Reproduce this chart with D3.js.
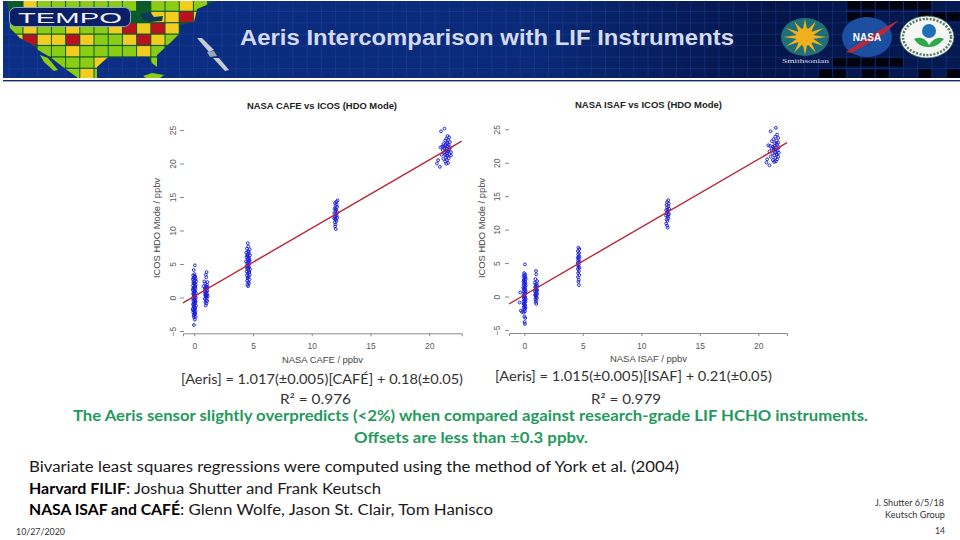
<!DOCTYPE html>
<html>
<head>
<meta charset="utf-8">
<title>Aeris Intercomparison with LIF Instruments</title>
<script src="https://cdn.jsdelivr.net/npm/d3@7/dist/d3.min.js"></script>
<style>
  html, body { margin: 0; padding: 0; background: #fff; }
  svg { display: block; }
  .axis text { font-family: "Liberation Sans", sans-serif; font-size: 8.5px; fill: #5a5a5a; }
  .axis line, .axis path { stroke: #8a8a8a; stroke-width: 1; }
</style>
</head>
<body>
<svg id="chart" width="960" height="540"></svg>
<script>
// ---- values, [x, y] in ppbv ----
const cafeBlank = [[0.05,4.8],[-0.05,4.1],[0.02,3.5],[-0.1,3.3],[0.08,3.1],[-0.04,3],[0.12,2.8],[-0.12,2.7],[0.03,2.6],[0.16,2.4],[-0.08,2.3],[0.06,2.2],[-0.02,2],[0.12,1.9],[-0.11,1.8],[0.04,1.6],[-0.06,1.5],[0.1,1.4],[0,1.2],[-0.12,1.1],[0.07,1],[-0.03,0.8],[0.13,0.7],[-0.09,0.6],[0.02,0.4],[0.09,0.3],[-0.05,0.2],[0.14,0],[-0.13,-0.1],[0.01,-0.2],[0.07,-0.4],[-0.08,-0.5],[0.11,-0.6],[-0.02,-0.8],[0.05,-0.9],[-0.11,-1],[0.15,-1.2],[0,-1.3],[-0.06,-1.4],[0.09,-1.6],[-0.13,-1.7],[0.04,-1.8],[-0.03,-2],[0.1,-2.1],[-0.09,-2.2],[0.02,-2.4],[0.07,-2.5],[-0.05,-2.7],[0.12,-2.9],[-0.02,-3],[0.05,-3.3],[-0.03,-4.1],[0.03,3.2],[-0.07,2.9],[0.01,2.5],[-0.04,2.1],[0.08,1.7],[-0.1,1.3],[0.03,0.9],[-0.07,0.5],[0.05,0.1],[-0.03,-0.3],[0.09,-0.7],[-0.06,-1.1],[0.02,-1.5],[-0.1,-1.9],[0.06,-2.3],[0,-2.6]];
const cafeLow = [[1.05,3.8],[0.98,3.4],[1.02,3],[0.85,2.4],[1.12,2.3],[0.94,2.1],[1.08,1.9],[0.78,1.7],[1,1.6],[1.15,1.5],[0.9,1.4],[1.05,1.3],[0.97,1.1],[1.12,1],[0.88,0.9],[1.02,0.8],[0.95,0.6],[1.09,0.5],[0.92,0.4],[1.04,0.3],[1.14,0.2],[0.96,0.1],[1.06,-0.1],[0.9,-0.2],[1,-0.4],[1.1,-0.5],[0.95,-0.7],[1.03,-0.9],[0.97,-1.2],[1.08,1.6],[0.93,1.2],[1.01,0.2]];
const cafeMid = [[4.55,8.1],[4.6,7.6],[4.48,7.3],[4.72,7.2],[4.58,6.9],[4.42,6.7],[4.65,6.6],[4.52,6.4],[4.74,6.3],[4.6,6.1],[4.45,6],[4.68,5.8],[4.55,5.7],[4.72,5.5],[4.4,5.4],[4.62,5.3],[4.5,5.1],[4.7,5],[4.58,4.8],[4.44,4.7],[4.66,4.5],[4.53,4.4],[4.75,4.2],[4.6,4.1],[4.46,3.9],[4.68,3.8],[4.55,3.6],[4.72,3.4],[4.48,3.3],[4.62,3.1],[4.54,2.9],[4.7,2.7],[4.5,2.5],[4.6,2.3],[4.66,2.1],[4.52,1.9],[4.58,1.7],[4.62,6.8],[4.5,6.2],[4.66,5.6],[4.56,5.2],[4.6,4.6],[4.5,4.3],[4.64,3.7],[4.56,3]];
const cafeHigh = [[12.2,14.5],[12.1,14.3],[11.98,14.1],[12.12,13.9],[12.02,13.7],[12.15,13.5],[11.95,13.3],[12.08,13.1],[12,12.9],[12.18,12.7],[11.92,12.6],[12.06,12.4],[12.12,12.2],[11.98,12],[12.16,11.9],[11.9,11.8],[12.04,11.6],[12.1,11.4],[11.96,11.2],[12.02,10.9],[11.98,10.6],[12.04,10.2],[12.02,13.2],[12.08,12.5],[11.98,11.7]];
const cafeTop = [[21,24.8],[21.3,25.2],[21.55,24.1],[21.7,23.9],[21.45,23.7],[21.6,23.5],[21.35,23.4],[21.75,23.2],[21.5,23.1],[21.2,22.9],[21.65,22.8],[21.4,22.7],[21.55,22.6],[21.1,22.5],[20.95,22.4],[21.8,22.4],[21.3,22.3],[21.5,22.2],[21.7,22.1],[21.15,22],[21.4,21.9],[21.6,21.8],[21.85,21.7],[21.25,21.6],[21.5,21.5],[21.7,21.4],[21.35,21.3],[21.05,21.3],[21.85,21.2],[21.55,21.1],[21.4,20.9],[21.65,20.8],[21.2,20.7],[21.5,20.5],[20.75,20.5],[21.35,20.3],[21.6,20.1],[21.45,19.95],[20.65,20],[20.9,19.5],[21.55,23],[21.25,22.6],[21.45,22.3],[21.6,22],[21.3,21.7],[21.5,21.2]];

const isafBlank = [[0.05,4.8],[-0.02,3.5],[0.08,3.3],[-0.06,3.1],[0.1,2.9],[0,2.8],[0.12,2.6],[-0.05,2.5],[0.06,2.3],[-0.08,2.2],[0.1,2],[0,1.9],[-0.06,1.7],[0.12,1.6],[0.04,1.4],[-0.08,1.3],[0.08,1.1],[-0.02,1],[0.12,0.8],[-0.06,0.7],[0.04,0.5],[0.1,0.4],[-0.08,0.2],[0,0.1],[0.08,-0.1],[-0.05,-0.2],[0.12,-0.4],[0.02,-0.5],[-0.07,-0.7],[0.1,-0.8],[0,-1],[-0.05,-1.1],[0.08,-1.3],[0.03,-1.4],[-0.06,-1.6],[0.1,-1.7],[0,-1.9],[-0.3,-2.1],[-0.2,-2.3],[-0.05,-2.4],[0.06,-2.2],[0,-3],[0.08,-3.2],[0.02,-3.8],[0.05,-4.1],[-0.4,-0.9],[-0.35,0.6],[0.03,3.1],[-0.03,2.4],[0.05,1.8],[-0.03,1.2],[0.06,0.6],[-0.02,0],[0.05,-0.6],[-0.02,-1.2],[0.04,-1.8]];
const isafLow = [[1,3.8],[1.02,3.3],[0.95,2.6],[1.1,2.3],[0.9,2.1],[1.05,1.9],[0.96,1.8],[1.12,1.6],[0.92,1.4],[1.03,1.3],[0.97,1.1],[1.1,1],[0.9,0.8],[1.05,0.7],[0.96,0.5],[1.1,0.4],[0.92,0.2],[1.02,0.1],[0.98,-0.1],[1.08,-0.2],[0.94,-0.4],[1.04,-0.6],[0.98,-0.8],[1.02,-1.1],[1,1.5],[1.04,0.9],[0.98,0.3]];
const isafMid = [[4.62,7.3],[4.7,7.1],[4.58,6.8],[4.68,6.5],[4.6,6.3],[4.72,6],[4.56,5.8],[4.66,5.6],[4.6,5.4],[4.72,5.2],[4.56,5],[4.66,4.8],[4.6,4.6],[4.7,4.3],[4.58,4.1],[4.66,3.8],[4.6,3.5],[4.7,3.2],[4.58,2.9],[4.66,2.5],[4.62,2.2],[4.66,1.7],[4.64,5.9],[4.62,5.1],[4.64,4.4]];
const isafHigh = [[12.3,14.4],[12.2,14.1],[12.35,13.9],[12.15,13.7],[12.3,13.5],[12.2,13.3],[12.38,13.1],[12.12,12.9],[12.28,12.7],[12.18,12.5],[12.36,12.3],[12.1,12.1],[12.25,11.9],[12.32,11.7],[12.16,11.5],[12.24,11.3],[12.12,10.9],[12.2,10.6],[12.26,10.3],[12.24,13],[12.28,12.2]];
const isafTop = [[21.05,24.7],[21.5,25.2],[21.6,24.2],[21.45,23.9],[21.7,23.7],[21.3,23.5],[21.55,23.3],[21.15,23.2],[21.7,23],[21.4,22.9],[20.85,22.6],[21,22.5],[21.6,22.7],[21.25,22.4],[21.75,22.3],[21.5,22.2],[21.15,22.1],[21.35,21.9],[21.65,21.8],[20.95,21.7],[21.45,21.6],[21.75,21.5],[21.2,21.4],[21.55,21.3],[21.35,21.1],[21.7,20.9],[21.05,20.9],[21.45,20.7],[21.6,20.5],[21.25,20.4],[20.75,20.5],[21.5,20.2],[20.7,20],[21.35,20.1],[20.95,19.6],[21.55,22.9],[21.3,22.2],[21.5,21.9],[21.6,21.2],[21.4,22.5]];

const cafePoints = [cafeBlank, cafeLow, cafeMid, cafeHigh, cafeTop];
const isafPoints = [isafBlank, isafLow, isafMid, isafHigh, isafTop];
const slopes = [1.017, 1.015];
const intercepts = [0.18, 0.21];
const xTicks = [0, 5, 10, 15, 20];
const yTicks = [-5, 0, 5, 10, 15, 20, 25];

const panelTitles = ["NASA CAFE vs ICOS (HDO Mode)", "NASA ISAF vs ICOS (HDO Mode)"];
const xLabels = ["NASA CAFE / ppbv", "NASA ISAF / ppbv"];
const yLabel = "ICOS HDO Mode / ppbv";
const slideTitle = "Aeris Intercomparison with LIF Instruments";

// banner map: one string per row, G green, Y yellow, R red, . nothing
const mapRows = [
  ".YGGGGGGG.GGYG",
  "..........YYRY",
  "GYGGYGGYRYRY..",
  "YRYYRYGGYRYG..",
  "..GGYGGGGYG...",
  "...GGGY...G...",
  "....GYG......."
];
const mapColors = { G: "#8ccc14", Y: "#f2cc1e", R: "#b8121e" };
// black cells in the top right of the banner, [column, row] on the banner grid
const darkCells = [[59,0],[60,0],[61,0],[62,0],[63,0],[64,0],[59,1],[60,1],[64,1],[65,1],[66,1],[58,5],[59,5],[60,5],[61,5],[62,5],[57,6],[58,6],[60,6],[61,6],[64,6],[66,6]];

const svg = d3.select("#chart");
const defs = svg.append("defs");

// ---- banner ----
const bannerFill = defs.append("linearGradient").attr("id", "bannerFill");
bannerFill.append("stop").attr("offset", "0").attr("stop-color", "#0c2f86");
bannerFill.append("stop").attr("offset", "0.55").attr("stop-color", "#0a2a78");
bannerFill.append("stop").attr("offset", "0.8").attr("stop-color", "#04154a");
bannerFill.append("stop").attr("offset", "1").attr("stop-color", "#051a52");

const banner = svg.append("g");
banner.append("rect").attr("x", 3).attr("y", 1).attr("width", 957).attr("height", 77).attr("fill", "url(#bannerFill)");

darkCells.forEach(c => {
  banner.append("rect").attr("x", 9.3 + c[0] * 14.2).attr("y", 1 + c[1] * 11.4)
    .attr("width", 13.2).attr("height", 8.5).attr("fill", "#01040f");
});

// faint grid over the sea
d3.range(9, 960, 14.2).forEach(x => banner.append("line").attr("x1", x).attr("x2", x).attr("y1", 1).attr("y2", 78).attr("stroke", "#2a4fa8").attr("stroke-opacity", 0.45).attr("stroke-width", 0.8));
d3.range(11.5, 78, 11.4).forEach(y => banner.append("line").attr("x1", 3).attr("x2", 960).attr("y1", y).attr("y2", y).attr("stroke", "#2a4fa8").attr("stroke-opacity", 0.4).attr("stroke-width", 0.8));

const landShape = "M7,1 L216,1 L197,9 L194,22 L180,25 L180,33 L170,43 L157,55 L157,67 L152,63 L148,57 L127,57 L107,58 L97,67 L97,78 L78,78 L63,67 L50,57 L38,50 L33,45 L20,38 L10,28 Z";
defs.append("clipPath").attr("id", "landClip").append("path").attr("d", landShape);
banner.append("path").attr("d", landShape).attr("fill", "#0b5a2a");

const mapCells = banner.append("g").attr("clip-path", "url(#landClip)");
mapRows.forEach((row, r) => {
  row.split("").forEach((c, i) => {
    if (c === ".") return;
    mapCells.append("rect")
      .attr("x", 9.3 + i * 14.2).attr("y", 0.5 + r * 11.4)
      .attr("width", 13.2).attr("height", 10.2)
      .attr("fill", mapColors[c]);
  });
});
// lakes, baja, cuba
banner.append("path").attr("d", "M140,14 L150,12 L154,17 L163,16 L162,21 L150,22 L143,20 Z").attr("fill", "#0a3a5a");
banner.append("path").attr("d", "M40,55 L48,58 L58,70 L54,71 L44,62 Z").attr("fill", "#8ccc14");
banner.append("path").attr("d", "M143,76 L152,73 L164,75 L160,78 L146,78 Z").attr("fill", "#8ccc14");

// satellite
banner.append("path").attr("d", "M197,38 L202,38 L214,50 L209,52 Z").attr("fill", "#c4ccd4");
banner.append("path").attr("d", "M207,52 L214,51 L217,56 L210,57 Z").attr("fill", "#9aa6b2");
banner.append("path").attr("d", "M213,58 L219,58 L229,70 L225,71 Z").attr("fill", "#c4ccd4");

// TEMPO pill
banner.append("rect").attr("x", 9.5).attr("y", 7.5).attr("width", 121).attr("height", 19).attr("rx", 6)
  .attr("fill", "#0b1f66").attr("stroke", "#8fa3d8").attr("stroke-width", 1);
banner.append("text").attr("x", 18).attr("y", 22.5).text("TEMPO")
  .attr("font-family", "'Liberation Sans', sans-serif").attr("font-size", 15).attr("fill", "#eef2ff")
  .attr("textLength", 104).attr("lengthAdjust", "spacingAndGlyphs");

banner.append("text").attr("x", 240).attr("y", 45).text(slideTitle)
  .attr("font-family", "'Liberation Sans', sans-serif").attr("font-weight", "bold").attr("font-size", 22)
  .attr("fill", "#d4daf0").attr("textLength", 494).attr("lengthAdjust", "spacingAndGlyphs");

// logos
banner.append("ellipse").attr("cx", 805).attr("cy", 37).attr("rx", 24).attr("ry", 19).attr("fill", "#1f6f78");
d3.range(0, 360, 30).forEach(a => {
  banner.append("path").attr("d", "M-3,0 L0,-18 L3,0 Z").attr("fill", "#f2b01e")
    .attr("transform", `translate(805,37) scale(1.2,1) rotate(${a})`);
});
banner.append("circle").attr("cx", 805).attr("cy", 37).attr("r", 9).attr("fill", "#f2b01e");
banner.append("text").attr("x", 782).attr("y", 63).text("Smithsonian")
  .attr("font-family", "'Liberation Serif', serif").attr("font-size", 7).attr("fill", "#d8dce8")
  .attr("textLength", 47).attr("lengthAdjust", "spacingAndGlyphs");

banner.append("ellipse").attr("cx", 867).attr("cy", 37).attr("rx", 25).attr("ry", 20).attr("fill", "#1c4fa0");
banner.append("path").attr("d", "M846,52 L880,30 L899,20 L884,34 L852,53 Z").attr("fill", "#b8283a");
banner.append("text").attr("x", 867).attr("y", 41).attr("text-anchor", "middle").text("NASA")
  .attr("font-family", "'Liberation Sans', sans-serif").attr("font-weight", "bold").attr("font-size", 10).attr("fill", "#fff");

banner.append("ellipse").attr("cx", 927).attr("cy", 37).attr("rx", 27).attr("ry", 21).attr("fill", "#f4f6f4").attr("stroke", "#3c6a5a").attr("stroke-width", 0.8);
banner.append("ellipse").attr("cx", 927).attr("cy", 37).attr("rx", 24).attr("ry", 18).attr("fill", "none").attr("stroke", "#5a7a6a").attr("stroke-width", 2.5).attr("stroke-dasharray", "2 1.5");
banner.append("circle").attr("cx", 929).attr("cy", 31).attr("r", 7).attr("fill", "#1e6fb8");
banner.append("path").attr("d", "M914,39 Q924,35 929,45 Q936,35 944,39 Q936,48 929,47 Q920,48 914,39 Z").attr("fill", "#2fa84a");

// rule under the banner
svg.append("rect").attr("x", 3).attr("y", 80).attr("width", 957).attr("height", 1.4).attr("fill", "#14286e");

// ---- scatter panels ----
function drawPanel(cfg) {
  const x = d3.scaleLinear().domain(cfg.xDomain).range(cfg.xRange);
  const y = d3.scaleLinear().domain(cfg.yDomain).range(cfg.yRange);
  const g = svg.append("g");

  const ax = g.append("g").attr("class", "axis")
    .attr("transform", `translate(0,${cfg.yRange[0]})`)
    .call(d3.axisBottom(x).tickValues(xTicks).tickSize(3).tickPadding(7).tickFormat(d3.format("d")));
  ax.select(".domain").attr("stroke-width", 1.2);

  const ay = g.append("g").attr("class", "axis")
    .attr("transform", `translate(${cfg.yAxisX},0)`)
    .call(d3.axisLeft(y).tickValues(yTicks).tickSize(4).tickPadding(0).tickFormat(d3.format("d")));
  ay.select(".domain").remove();
  ay.selectAll(".tick text")
    .attr("x", 0).attr("dy", 0).attr("y", 0)
    .attr("text-anchor", "middle")
    .attr("transform", `translate(${cfg.yTickX - cfg.yAxisX},0) rotate(-90)`);

  const dots = cfg.points.flat();
  g.append("g").selectAll("circle").data(dots).enter().append("circle")
    .attr("cx", d => x(d[0])).attr("cy", d => y(d[1])).attr("r", 1.4)
    .attr("fill", "none").attr("stroke", "#1a1ed8").attr("stroke-width", 0.95);

  const fit = v => cfg.slope * v + cfg.intercept;
  g.append("line")
    .attr("x1", x(cfg.xDomain[0])).attr("y1", y(fit(cfg.xDomain[0])))
    .attr("x2", x(cfg.xDomain[1])).attr("y2", y(fit(cfg.xDomain[1])))
    .attr("stroke", "#bc2432").attr("stroke-width", 1.4);

  const font = "'Liberation Sans', sans-serif";
  g.append("text").attr("x", cfg.titleX[0]).attr("y", cfg.titleY).text(cfg.title)
    .attr("font-family", font).attr("font-weight", "bold").attr("font-size", 8.5).attr("fill", "#222")
    .attr("textLength", cfg.titleX[1] - cfg.titleX[0]).attr("lengthAdjust", "spacingAndGlyphs");
  g.append("text").attr("x", cfg.xLabelX[0]).attr("y", cfg.xLabelY).text(cfg.xLabel)
    .attr("font-family", font).attr("font-size", 8.5).attr("fill", "#444")
    .attr("textLength", cfg.xLabelX[1] - cfg.xLabelX[0]).attr("lengthAdjust", "spacingAndGlyphs");
  g.append("text").attr("transform", `translate(${cfg.yLabelX},278) rotate(-90)`).text(yLabel)
    .attr("font-family", font).attr("font-size", 8.5).attr("fill", "#444")
    .attr("textLength", 100).attr("lengthAdjust", "spacingAndGlyphs");
}

drawPanel({
  points: cafePoints, slope: slopes[0], intercept: intercepts[0],
  xDomain: [-0.96, 22.76], xRange: [183, 461.7],
  yDomain: [-5.34, 25.7], yRange: [333.3, 125.3], yAxisX: 184, yTickX: 176,
  title: panelTitles[0], titleX: [247, 397], titleY: 109,
  xLabel: xLabels[0], xLabelX: [282, 363], xLabelY: 362.5, yLabelX: 160
});
drawPanel({
  points: isafPoints, slope: slopes[1], intercept: intercepts[1],
  xDomain: [-1.31, 22.45], xRange: [509, 787],
  yDomain: [-5.45, 25.6], yRange: [333, 125.2], yAxisX: 509, yTickX: 500,
  title: panelTitles[1], titleX: [575, 722], titleY: 108,
  xLabel: xLabels[1], xLabelX: [610, 687], xLabelY: 361.5, yLabelX: 485
});

// ---- slide text ----
const bodyFont = "Lato, 'Open Sans', sans-serif";
function fitted(str, x0, x1, base, size, color, bold) {
  return svg.append("text").attr("x", x0).attr("y", base).text(str)
    .attr("font-family", bodyFont).attr("font-size", size).attr("fill", color)
    .attr("font-weight", bold ? "bold" : "normal")
    .attr("textLength", x1 - x0).attr("lengthAdjust", "spacingAndGlyphs");
}

const eqLeft = "[Aeris] = 1.017(±0.005)[CAFÉ] + 0.18(±0.05)";
const eqRight = "[Aeris] = 1.015(±0.005)[ISAF] + 0.21(±0.05)";
const r2Left = "R² = 0.976";
const r2Right = "R² = 0.979";
const greenLines = [
  "The Aeris sensor slightly overpredicts (<2%) when compared against research-grade LIF HCHO instruments.",
  "Offsets are less than ±0.3 ppbv."
];
const creditLines = [
  "Bivariate least squares regressions were computed using the method of York et al. (2004)",
  "Harvard FILIF", ": Joshua Shutter and Frank Keutsch",
  "NASA ISAF and CAFÉ", ": Glenn Wolfe, Jason St. Clair, Tom Hanisco"
];

fitted(eqLeft, 181, 463, 384, 13, "#333");
fitted(eqRight, 495, 772, 381, 13, "#333");
fitted(r2Left, 280, 351, 404, 13.5, "#333");
fitted(r2Right, 591, 661, 404, 13.5, "#333");
fitted(greenLines[0], 73, 868, 421, 14.3, "#1f9a5c", true);
fitted(greenLines[1], 354, 588, 443, 14.3, "#1f9a5c", true);

fitted(creditLines[0], 29, 679, 472, 14.5, "#1a1a1a");
fitted(creditLines[1], 29, 126, 494, 14.5, "#000", true);
fitted(creditLines[2], 126, 381, 494, 14.5, "#1a1a1a");
fitted(creditLines[3], 29, 180, 515, 14.5, "#000", true);
fitted(creditLines[4], 180, 493, 515, 14.5, "#1a1a1a");

fitted("10/27/2020", 16, 65, 535, 8.5, "#333");
fitted("J. Shutter 6/5/18", 875, 944, 506, 8.5, "#333");
fitted("Keutsch Group", 885, 945, 518, 8.5, "#333");
fitted("14", 935, 945, 534, 8.5, "#333");
</script>
</body>
</html>
